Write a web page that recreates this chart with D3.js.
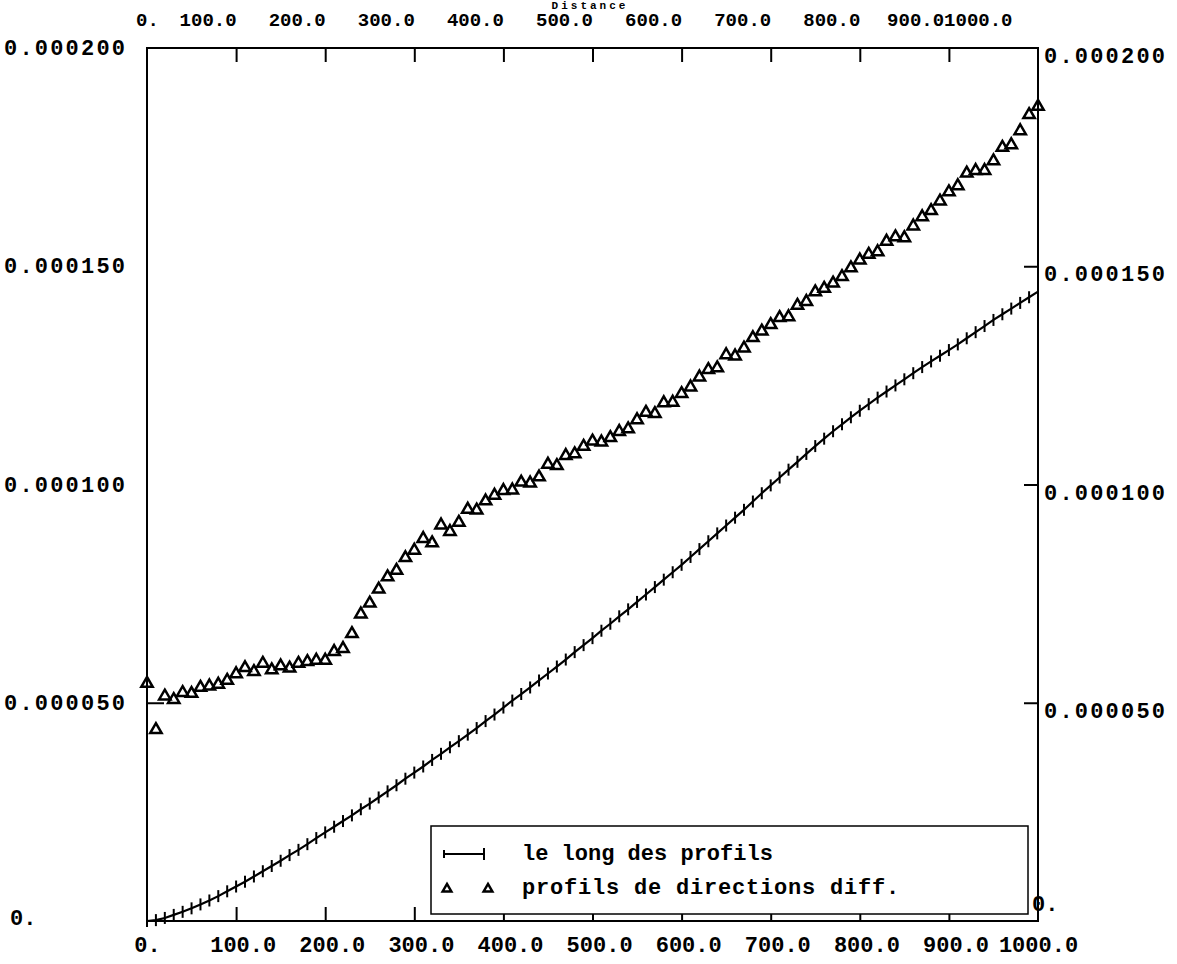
<!DOCTYPE html>
<html><head><meta charset="utf-8">
<script src="https://cdn.jsdelivr.net/npm/d3@7/dist/d3.min.js"></script>
<style>
body{margin:0;background:#fff}
text{font-family:"Liberation Mono","Courier New",monospace;font-weight:bold;font-size:22px;fill:#000}
</style>
</head><body>
<svg id="c" width="1177" height="964"></svg>
<script>
// ---- data ----
const distance = [0,10,20,30,40,50,60,70,80,90,100,110,120,130,140,150,160,170,180,190,200,210,220,230,240,250,260,270,280,290,300,310,320,330,340,350,360,370,380,390,400,410,420,430,440,450,460,470,480,490,500,510,520,530,540,550,560,570,580,590,600,610,620,630,640,650,660,670,680,690,700,710,720,730,740,750,760,770,780,790,800,810,820,830,840,850,860,870,880,890,900,910,920,930,940,950,960,970,980,990,1000];
// "le long des profils" (units of 1e-5)
const longProfils = [0.00,0.02,0.07,0.14,0.21,0.29,0.38,0.47,0.57,0.68,0.79,0.90,1.02,1.14,1.26,1.38,1.51,1.63,1.76,1.90,2.03,2.16,2.29,2.42,2.56,2.69,2.83,2.97,3.11,3.26,3.40,3.54,3.69,3.83,3.98,4.12,4.27,4.42,4.58,4.73,4.89,5.05,5.20,5.35,5.51,5.67,5.83,5.99,6.16,6.32,6.48,6.65,6.81,6.98,7.14,7.31,7.48,7.65,7.82,7.99,8.16,8.34,8.52,8.70,8.88,9.06,9.24,9.42,9.61,9.80,9.98,10.16,10.34,10.52,10.70,10.88,11.05,11.22,11.38,11.54,11.69,11.84,11.99,12.13,12.27,12.41,12.55,12.69,12.82,12.95,13.08,13.21,13.35,13.49,13.63,13.77,13.90,14.03,14.16,14.29,14.42];
// "profils de directions diff." (units of 1e-5)
const directionsDiff = [5.44,4.38,5.15,5.07,5.23,5.21,5.35,5.38,5.42,5.51,5.66,5.80,5.71,5.90,5.75,5.84,5.79,5.90,5.94,5.97,5.97,6.17,6.24,6.58,7.03,7.28,7.60,7.88,8.03,8.32,8.49,8.76,8.66,9.07,8.92,9.13,9.43,9.41,9.62,9.75,9.86,9.87,10.05,10.03,10.17,10.46,10.43,10.66,10.70,10.87,10.99,10.97,11.07,11.21,11.27,11.48,11.65,11.62,11.87,11.88,12.08,12.23,12.46,12.63,12.67,12.97,12.94,13.12,13.36,13.51,13.66,13.82,13.84,14.10,14.19,14.41,14.49,14.61,14.76,14.96,15.14,15.27,15.33,15.57,15.67,15.65,15.92,16.13,16.27,16.49,16.70,16.84,17.13,17.19,17.19,17.41,17.72,17.78,18.10,18.47,18.66];
const valueUnit = 1e-5;
const xTickValues = [0,100,200,300,400,500,600,700,800,900,1000];
const xTickLabels = ["0.","100.0","200.0","300.0","400.0","500.0","600.0","700.0","800.0","900.0","1000.0"];
const yTickValues = [0,0.00005,0.0001,0.00015,0.0002];
const yTickLabels = ["0.","0.000050","0.000100","0.000150","0.000200"];
const seriesNames = ["le long des profils","profils de directions diff."];
const title = "Distance";

// ---- layout ----
const L = 147, R = 1038, T = 48, B = 921;
const svg = d3.select("#c");
const x = d3.scaleLinear().domain([0,1000]).range([L,R]);
const y = d3.scaleLinear().domain([0,0.0002]).range([B,T]);
const charW = 13.2, topCharW = 11.4, topMaxRight = 1012;

// title (mostly off the top in the original)
svg.append("text").attr("x",590).attr("y",9).attr("text-anchor","middle")
  .style("font-size","11px").attr("letter-spacing",3).text(title);

// frame
svg.append("rect").attr("x",L).attr("y",T).attr("width",R-L).attr("height",B-T)
  .attr("fill","none").attr("stroke","#000").attr("stroke-width",2);

const xFmt = d => xTickLabels[xTickValues.indexOf(d)];
const yFmt = d => yTickLabels[yTickValues.indexOf(d)];

// bottom axis
const gb = svg.append("g").attr("transform",`translate(0,${B})`)
  .call(d3.axisBottom(x).tickValues(xTickValues).tickFormat(xFmt).tickSizeInner(-14).tickSizeOuter(0).tickPadding(0));
// top axis
const gt = svg.append("g").attr("transform",`translate(0,${T})`)
  .call(d3.axisTop(x).tickValues(xTickValues).tickFormat(xFmt).tickSizeInner(-14).tickSizeOuter(0).tickPadding(0));
[gb,gt].forEach(g=>{
  g.select(".domain").remove();
  g.selectAll(".tick line").attr("stroke","#000").attr("stroke-width",2)
    .filter(d=>d===0||d===1000).remove();
  g.selectAll(".tick text").attr("font-size",null).attr("font-family",null);
});
gb.selectAll(".tick text").attr("y",23).attr("dy","0.35em")
  .attr("dx",d=>{const s=xFmt(d); return s==="0."?0:(6-s.length)*charW/2;});

// top labels: right-aligned at the tick, pushed left so none passes topMaxRight or overlaps its neighbour
const topEnd = {};
let limit = topMaxRight;
for (let i = xTickValues.length-1; i >= 1; i--) {
  const v = xTickValues[i];
  const e = Math.min(x(v), limit);
  topEnd[v] = e;
  limit = e - xTickLabels[i].length*topCharW;
}
gt.selectAll(".tick text").style("font-size","19px").attr("y",19-T).attr("dy","0.35em")
  .attr("text-anchor",d=>d===0?"middle":"end")
  .attr("x",d=>d===0?0:topEnd[d]-x(d));

// left axis labels
const gl = svg.append("g")
  .call(d3.axisLeft(y).tickValues(yTickValues).tickFormat(yFmt).tickSize(0).tickPadding(0));
gl.select(".domain").remove();
gl.selectAll(".tick line").remove();
gl.selectAll(".tick text").attr("font-size",null).attr("font-family",null)
  .attr("x",d=>d===0?10:4).attr("text-anchor","start")
  .attr("y",d=>d===0?-4:-1).attr("dy","0.35em").attr("letter-spacing",d=>d===0?0:2.2);
// left visible tick
const glt = svg.append("g").attr("transform",`translate(${L},0)`)
  .call(d3.axisLeft(y).tickValues([0.00005]).tickSizeInner(-17).tickSizeOuter(0).tickFormat(""));
glt.select(".domain").remove();
glt.selectAll(".tick line").attr("stroke","#000").attr("stroke-width",2);

// right axis
const gr = svg.append("g").attr("transform",`translate(${R},0)`)
  .call(d3.axisRight(y).tickValues(yTickValues).tickFormat(yFmt).tickSizeInner(-14).tickSizeOuter(0).tickPadding(0));
gr.select(".domain").remove();
gr.selectAll(".tick line").attr("stroke","#000").attr("stroke-width",2)
  .filter(d=>d===0||d===0.0002).remove();
gr.selectAll(".tick text").attr("font-size",null).attr("font-family",null)
  .attr("x",d=>d===0?-6:6).attr("y",d=>d===0?-18:7).attr("dy","0.35em")
  .attr("letter-spacing",d=>d===0?0:2.2);

// series 1: line with vertical bars
const pts1 = distance.map((d,i)=>[x(d), y(longProfils[i]*valueUnit)]);
svg.append("path").attr("d",d3.line()(pts1)).attr("fill","none").attr("stroke","#000").attr("stroke-width",2.2);
svg.append("g").selectAll("line").data(pts1).join("line")
  .attr("x1",d=>d[0]).attr("x2",d=>d[0]).attr("y1",d=>d[1]-6).attr("y2",d=>d[1]+6)
  .attr("stroke","#000").attr("stroke-width",2);

// series 2: triangles
const tri = d3.symbol(d3.symbolTriangle, 56)();
svg.append("g").selectAll("path").data(distance).join("path")
  .attr("d",tri)
  .attr("transform",(d,i)=>`translate(${x(d)},${y(directionsDiff[i]*valueUnit)})`)
  .attr("fill","none").attr("stroke","#000").attr("stroke-width",2.5);

// legend
const lg = svg.append("g");
lg.append("rect").attr("x",431).attr("y",826).attr("width",597).attr("height",88)
  .attr("fill","#fff").attr("stroke","#000").attr("stroke-width",1.5);
lg.append("line").attr("x1",444).attr("x2",484).attr("y1",854).attr("y2",854).attr("stroke","#000").attr("stroke-width",2);
lg.append("line").attr("x1",444).attr("x2",444).attr("y1",850).attr("y2",858).attr("stroke","#000").attr("stroke-width",2);
lg.append("line").attr("x1",484).attr("x2",484).attr("y1",848).attr("y2",860).attr("stroke","#000").attr("stroke-width",2);
[447,488].forEach(px=>lg.append("path").attr("d",d3.symbol(d3.symbolTriangle,34)())
  .attr("transform",`translate(${px},889)`).attr("fill","none").attr("stroke","#000").attr("stroke-width",2.4));
lg.append("text").attr("x",522).attr("y",852).attr("dy","0.35em").text(seriesNames[0]);
lg.append("text").attr("x",522).attr("y",886).attr("dy","0.35em").attr("letter-spacing",0.8).text(seriesNames[1]);
</script>
</body></html>
